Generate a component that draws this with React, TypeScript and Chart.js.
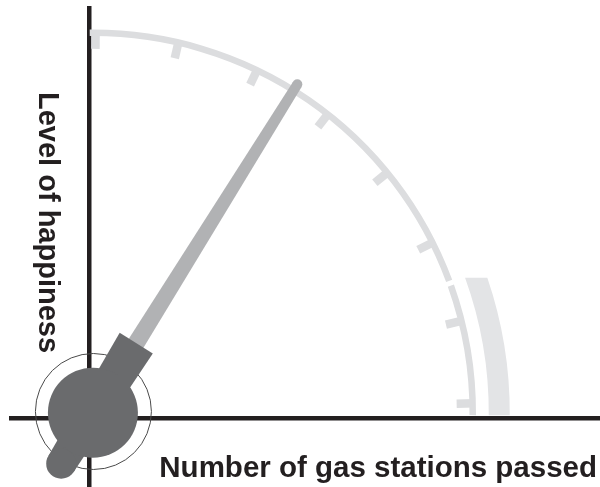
import { useEffect, useRef } from "react";
import { Chart, registerables } from "chart.js";

Chart.register(...registerables);

// ---- data ----
const AXIS_TITLES = ["Number of gas stations passed", "Level of happiness"];
const GAUGE_TICKS = [0, 1, 2, 3, 4, 5, 6, 7];
const GAUGE_RANGE = [-0.07, 7.14];
const ARC_GAP = [5.5, 5.56];
const ZONE = [5.53, 7.14];
const NEEDLE = [2.5];

// ---- geometry / style (not data) ----
const GEOM = {
  pivot: { x: 0.1, y: 0.15 }, // in axis units
  radius: 9.97, // axis units
  startDeg: 0.4,
  degPerUnit: 12.6,
};
const COLORS = {
  axis: "#231f20",
  arc: "#dcdddf",
  zone: "#e3e4e6",
  needle: "#b1b2b4",
  hub: "#6a6b6d",
  ring: "#4a4a4a",
  text: "#231f20",
};

const gaugePlugin = {
  id: "gaugePlugin",
  afterDatasetsDraw(chart: any) {
    const { ctx } = chart;
    const xs = chart.scales.x;
    const ys = chart.scales.y;
    const k = xs.getPixelForValue(1) - xs.getPixelForValue(0);
    const cx = xs.getPixelForValue(GEOM.pivot.x);
    const cy = ys.getPixelForValue(GEOM.pivot.y);
    const R = GEOM.radius * k;
    const ang = (v: number) => ((GEOM.startDeg + v * GEOM.degPerUnit) * Math.PI) / 180;
    const cang = (a: number) => a - Math.PI / 2;
    const dir = (a: number) => [Math.sin(a), -Math.cos(a)];

    ctx.save();

    // thin ring
    ctx.beginPath();
    ctx.arc(cx + 0.5, cy - 1.2, 58, 0, Math.PI * 2);
    ctx.strokeStyle = COLORS.ring;
    ctx.lineWidth = 1;
    ctx.stroke();

    // zone band
    const rIn = R + 16;
    const rOut = R + 37;
    const a0 = ang(ZONE[0]);
    const a1 = ang(ZONE[1]);
    const yTop = cy - rIn * Math.cos(a0);
    const yBot = cy - rIn * Math.cos(a1);
    const oTop = Math.acos((cy - yTop) / rOut);
    const oBot = Math.acos((cy - yBot) / rOut);
    ctx.beginPath();
    ctx.arc(cx, cy, rIn, cang(a0), cang(a1));
    ctx.arc(cx, cy, rOut, cang(oBot), cang(oTop), true);
    ctx.closePath();
    ctx.fillStyle = COLORS.zone;
    ctx.fill();

    // arc
    ctx.strokeStyle = COLORS.arc;
    ctx.lineWidth = 6.5;
    ctx.lineCap = "butt";
    ctx.beginPath();
    ctx.arc(cx, cy, R, cang(ang(GAUGE_RANGE[0])), cang(ang(ARC_GAP[0])));
    ctx.stroke();
    ctx.beginPath();
    ctx.arc(cx, cy, R, cang(ang(ARC_GAP[1])), cang(ang(GAUGE_RANGE[1])));
    ctx.stroke();

    // ticks
    ctx.lineWidth = 8.5;
    GAUGE_TICKS.forEach((t) => {
      const a = ang(t);
      const [dx, dy] = dir(a);
      ctx.beginPath();
      ctx.moveTo(cx + dx * (R + 2), cy + dy * (R + 2));
      ctx.lineTo(cx + dx * (R - 16), cy + dy * (R - 16));
      ctx.stroke();
    });

    // needle
    const an = ang(NEEDLE[0]);
    const [ux, uy] = dir(an);
    const px = -uy;
    const py = ux; // perpendicular
    const P = (along: number, across: number) => [cx + ux * along + px * across, cy + uy * along + py * across];
    const tipAlong = R + 7;
    const tipHalf = 5;
    const baseHalf = 8.8;
    ctx.fillStyle = COLORS.needle;
    ctx.beginPath();
    let p = P(60, -baseHalf);
    ctx.moveTo(p[0], p[1]);
    p = P(tipAlong, -tipHalf);
    ctx.lineTo(p[0], p[1]);
    p = P(tipAlong, tipHalf);
    ctx.lineTo(p[0], p[1]);
    p = P(60, baseHalf);
    ctx.lineTo(p[0], p[1]);
    ctx.closePath();
    ctx.fill();
    p = P(tipAlong, 0);
    ctx.beginPath();
    ctx.arc(p[0], p[1], tipHalf, 0, Math.PI * 2);
    ctx.fill();

    // handle
    ctx.fillStyle = COLORS.hub;
    ctx.beginPath();
    p = P(82, -19.5);
    ctx.moveTo(p[0], p[1]);
    p = P(82, 19.5);
    ctx.lineTo(p[0], p[1]);
    p = P(-60, 15);
    ctx.lineTo(p[0], p[1]);
    p = P(-60, -15);
    ctx.lineTo(p[0], p[1]);
    ctx.closePath();
    ctx.fill();
    p = P(-60, 0);
    ctx.beginPath();
    ctx.arc(p[0], p[1], 15, 0, Math.PI * 2);
    ctx.fill();

    // hub
    ctx.beginPath();
    ctx.arc(cx, cy, 45, 0, Math.PI * 2);
    ctx.fill();

    ctx.restore();
  },
  afterDraw(chart: any) {
    const { ctx, chartArea } = chart;
    const xs = chart.scales.x;
    const ys = chart.scales.y;
    const ox = xs.getPixelForValue(0);
    const oy = ys.getPixelForValue(0);
    ctx.save();
    ctx.fillStyle = COLORS.text;
    ctx.font = "bold 29.5px 'Liberation Sans', Arial, sans-serif";
    ctx.textAlign = "right";
    ctx.textBaseline = "alphabetic";
    ctx.fillText(AXIS_TITLES[0], chartArea.right - 3, oy + 58.5);

    ctx.font = "bold 29px 'Liberation Sans', Arial, sans-serif";
    ctx.textAlign = "left";
    ctx.translate(ox - 50, chartArea.top + 84);
    ctx.rotate(Math.PI / 2);
    ctx.fillText(AXIS_TITLES[1], 0, 0);
    ctx.restore();
  },
};

export default function App() {
  const ref = useRef<HTMLCanvasElement | null>(null);
  useEffect(() => {
    if (!ref.current) return;
    const chart = new Chart(ref.current, {
      type: "scatter",
      data: { datasets: [] },
      options: {
        animation: false,
        responsive: true,
        maintainAspectRatio: false,
        layout: { padding: { left: 11, top: 8, right: 0, bottom: 0 } },
        plugins: { legend: { display: false }, tooltip: { enabled: false } },
        scales: {
          x: {
            type: "linear",
            min: -2.05,
            max: 13.41,
            position: { y: 0 } as any,
            z: 1,
            grid: { display: false, drawTicks: false },
            ticks: { display: false },
            border: { display: true, color: COLORS.axis, width: 4.5 },
          },
          y: {
            type: "linear",
            min: -1.8,
            max: 10.77,
            position: { x: 0 } as any,
            z: 1,
            grid: { display: false, drawTicks: false },
            ticks: { display: false },
            border: { display: true, color: COLORS.axis, width: 4.5 },
          },
        },
      },
      plugins: [gaugePlugin],
    });
    return () => chart.destroy();
  }, []);
  return (
    <div style={{ position: "fixed", left: 0, top: 0, width: 600, height: 487, background: "#fff" }}>
      <canvas ref={ref} />
    </div>
  );
}
